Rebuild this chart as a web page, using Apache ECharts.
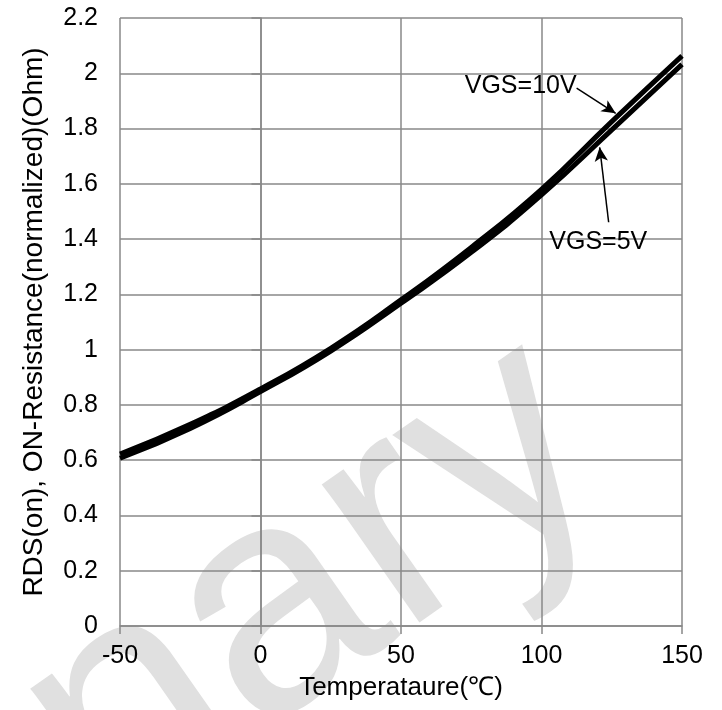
<!DOCTYPE html>
<html>
<head>
<meta charset="utf-8">
<script src="https://cdn.jsdelivr.net/npm/echarts@6/dist/echarts.min.js"></script>
<style>html,body{margin:0;padding:0;background:#fff;}#c{width:722px;height:710px;}</style>
</head>
<body>
<div id="c"></div>
<script>
const temps = [-50, -25, 0, 25, 50, 75, 100, 125, 150];
const vgs10 = [0.622, 0.73, 0.858, 1.005, 1.18, 1.37, 1.58, 1.825, 2.063];
const vgs5  = [0.607, 0.715, 0.848, 0.995, 1.168, 1.352, 1.56, 1.795, 2.032];
const xTicks = [-50, 0, 50, 100, 150];
const yTicks = [0, 0.2, 0.4, 0.6, 0.8, 1, 1.2, 1.4, 1.6, 1.8, 2, 2.2];
const label10 = 'VGS=10V';
const label5 = 'VGS=5V';
const watermark = 'Preliminary';
const arrow10 = [[112.5, 1.946], [126.4, 1.855]];
const arrow5 = [[123.9, 1.461], [120.7, 1.732]];
const labelPos10 = [112.5, 1.953];
const labelPos5 = [120.2, 1.389];

const font = 'Liberation Sans, Arial, sans-serif';
const chart = echarts.init(document.getElementById('c'));
const pair = (xs, ys) => xs.map((x, i) => [x, ys[i]]);
chart.setOption({
  animation: false,
  backgroundColor: '#fff',
  graphic: [{
    type: 'text', z: -100, silent: true,
    x: 569, y: 410, rotation: 35 * Math.PI / 180,
    style: { text: watermark, fill: '#e0e0e0', fontSize: 320, fontFamily: font,
      textAlign: 'right', textVerticalAlign: 'middle' }
  }],
  grid: { left: 120, right: 40, top: 18, bottom: 84 },
  xAxis: {
    type: 'value', min: -50, max: 150, interval: 50,
    name: 'Temperataure(℃)', nameLocation: 'middle', nameGap: 49,
    nameTextStyle: { color: '#000', fontSize: 26, fontFamily: font },
    axisLine: { show: true, lineStyle: { color: '#888', width: 1.5 } },
    axisTick: { show: true, inside: false, length: 8, lineStyle: { color: '#888', width: 1.5 } },
    axisLabel: { color: '#000', fontSize: 25, fontFamily: font, margin: 18,
      formatter: v => xTicks.includes(v) ? String(v) : '' },
    splitLine: { show: true, lineStyle: { color: '#888', width: 1.5 } }
  },
  yAxis: {
    type: 'value', min: 0, max: 2.2, interval: 0.2,
    name: 'RDS(on), ON-Resistance(normalized)(Ohm)', nameLocation: 'middle', nameGap: 72,
    nameTextStyle: { color: '#000', fontSize: 28, fontFamily: font },
    axisLine: { show: true, lineStyle: { color: '#888', width: 1.5 } },
    axisTick: { show: true, inside: false, length: 9, lineStyle: { color: '#888', width: 1.5 } },
    axisLabel: { color: '#000', fontSize: 25, fontFamily: font, margin: 22,
      formatter: v => { const t = yTicks.find(y => Math.abs(y - v) < 1e-6); return t === undefined ? '' : String(t); } },
    splitLine: { show: true, lineStyle: { color: '#888', width: 1.5 } }
  },
  series: [
    {
      name: label10, type: 'line', smooth: true, symbol: 'none',
      data: pair(temps, vgs10),
      lineStyle: { color: '#000', width: 5 },
      markLine: {
        silent: true, symbol: ['none', 'arrow'], symbolSize: [10, 14],
        lineStyle: { color: '#000', width: 1.5, type: 'solid' },
        label: { show: false },
        data: [[{ coord: arrow10[0] }, { coord: arrow10[1] }]]
      },
      markPoint: {
        symbol: 'circle', symbolSize: 0,
        label: { show: true, position: 'left', distance: 0, formatter: label10,
          color: '#000', fontSize: 25, fontFamily: font },
        data: [{ coord: labelPos10 }]
      }
    },
    {
      name: label5, type: 'line', smooth: true, symbol: 'none',
      data: pair(temps, vgs5),
      lineStyle: { color: '#000', width: 5 },
      markLine: {
        silent: true, symbol: ['none', 'arrow'], symbolSize: [10, 14],
        lineStyle: { color: '#000', width: 1.5, type: 'solid' },
        label: { show: false },
        data: [[{ coord: arrow5[0] }, { coord: arrow5[1] }]]
      },
      markPoint: {
        symbol: 'circle', symbolSize: 0,
        label: { show: true, position: 'inside', formatter: label5,
          color: '#000', fontSize: 25, fontFamily: font },
        data: [{ coord: labelPos5 }]
      }
    }
  ]
});
</script>
</body>
</html>
